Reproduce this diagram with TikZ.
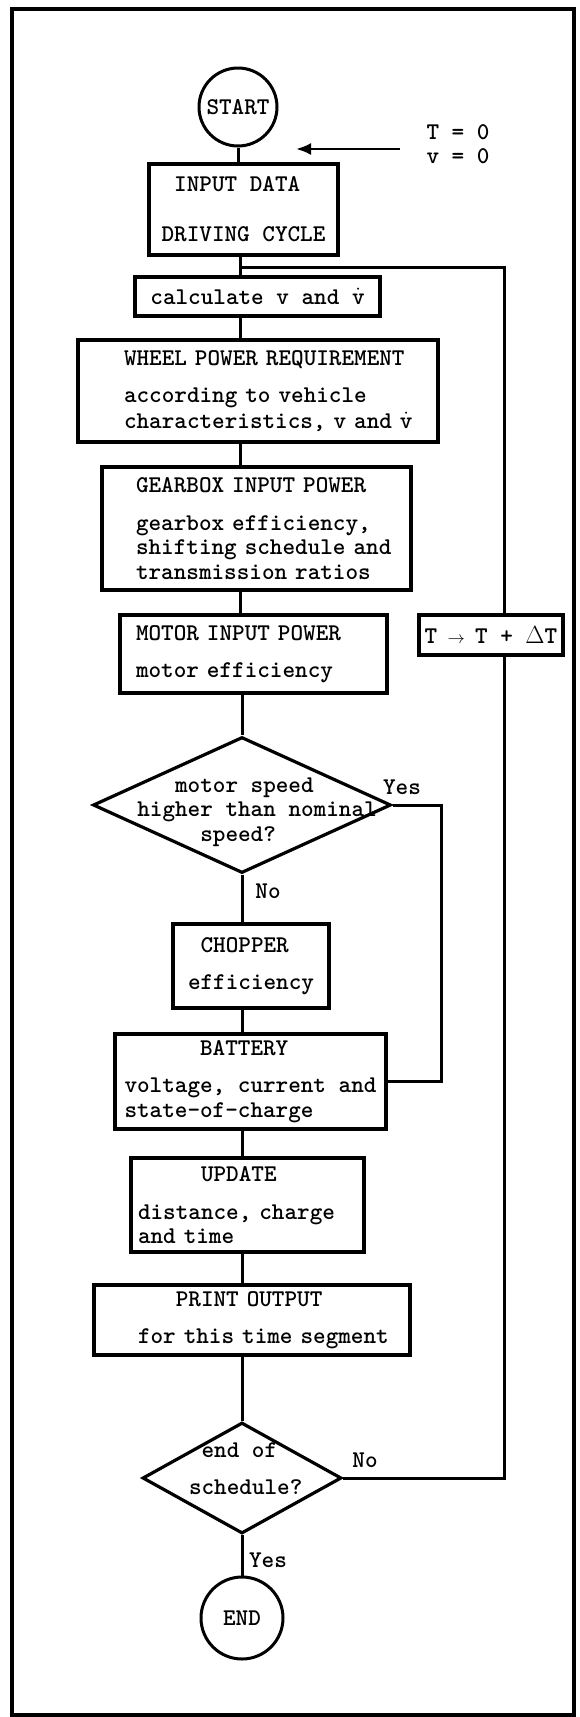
\documentclass[tikz,border=0pt]{standalone}
\usepackage{amsmath}
\usepackage{tikz}
\usetikzlibrary{shapes,arrows,arrows.meta}
\newcommand{\chartfont}{\fontsize{24}{24.5}\selectfont\ttfamily\bfseries}
\newcommand{\vdt}{$\dot{\mbox{v}}$}
\tikzstyle{block} = [draw, rectangle, line width=3.2pt, inner sep=0pt, align=left, font=\chartfont]
\tikzstyle{decision} = [draw, diamond, line width=3.2pt, inner sep=0pt]
\tikzstyle{terminal} = [draw, circle, line width=3pt, inner sep=0pt, font=\chartfont]
\tikzstyle{answer} = [inner sep=0pt, font=\chartfont]
\tikzstyle{line} = [draw, line width=3pt]
\tikzstyle{arrow} = [draw, line width=2.6pt, -{Latex[length=15pt,width=12pt]}]

\begin{document}
\begin{tikzpicture}[x=1pt, y=-1pt]
\fill[white] (0,0) rectangle (579,1717);
\useasboundingbox (0,0) rectangle (579,1717);
\draw[line width=3.8pt] (12,9) rectangle (574,1715);
%
\coordinate (spine) at (240,0);
\coordinate (junction) at (240,267);
\coordinate (loop) at (504,267);
\coordinate (bypass) at (441,0);
\coordinate (inittail) at (400,149);
\coordinate (inittip) at (296,149);
%
\node[terminal, minimum size=78pt] (start) at (238,107) {START};
\node[answer, align=left] (init) at (458,144) {T = 0\\v = 0};
\node[block, minimum width=189pt, minimum height=91pt] (input) at (243.5,209.5)
  {\hspace*{12.6pt}INPUT DATA\\[25.5pt]DRIVING CYCLE};
\node[block, minimum width=245pt, minimum height=39pt] (calc) at (257.5,296.5)
  {calculate v and \vdt};
\node[block, minimum width=360pt, minimum height=102pt, text width=268pt] (wheel) at (258,391)
  {\mbox{WHEEL POWER REQUIREMENT}\\[13pt]according to vehicle\\[1pt]\mbox{characteristics, v and \vdt}};
\node[block, minimum width=309pt, minimum height=123pt, text width=241pt] (gear) at (256.5,528.5)
  {\mbox{GEARBOX INPUT POWER}\\[13.5pt]\mbox{gearbox efficiency,}\\\mbox{shifting schedule and}\\\mbox{transmission ratios}};
\node[block, minimum width=267pt, minimum height=78pt, text width=235pt] (motor) at (253.5,654)
  {MOTOR INPUT POWER\\[12.5pt]motor efficiency};
\node[block, minimum width=144pt, minimum height=40pt, align=center] (increment) at (491,635)
  {T \makebox[12.6pt]{$\scriptstyle\rightarrow$} T + $\Delta$T};
%
\node[decision, minimum width=298pt, minimum height=136pt] (speed) at (242,805) {};
\node[answer, align=left] (speedtext) at (257,812)
  {\hspace*{37.8pt}motor speed\\higher than nominal\\\hspace*{63pt}speed?};
\node[answer] (yes1) at (402,787) {Yes};
\node[answer] (no1) at (268,891) {No};
%
\node[block, minimum width=156pt, minimum height=84pt] (chopper) at (251,966)
  {\hspace*{12.6pt}CHOPPER\\[12.5pt]efficiency};
\node[block, minimum width=271pt, minimum height=95pt] (battery) at (250.5,1081.5)
  {\hspace*{75.6pt}BATTERY\\[12.5pt]voltage, current and\\state-of-charge};
\node[block, minimum width=233pt, minimum height=94pt, text width=219pt] (update) at (247.5,1205)
  {\hspace*{63pt}UPDATE\\[13.5pt]distance, charge\\and time};
\node[block, minimum width=316pt, minimum height=70pt, text width=228pt] (print) at (252,1320)
  {\hspace*{37.8pt}PRINT OUTPUT\\[12.5pt]\mbox{for this time segment}};
%
\node[decision, minimum width=199pt, minimum height=111pt] (schedule) at (242,1478) {};
\node[answer, align=left] (scheduletext) at (245.7,1469)
  {\hspace*{12.6pt}end of\\[12.5pt]schedule?};
\node[answer] (no2) at (365,1460) {No};
\node[answer] (yes2) at (268,1560) {Yes};
\node[terminal, minimum size=82pt] (finish) at (242,1618) {END};
%
\draw[arrow] (inittail) -- (inittip);
\draw[line] (start.south) -- (start.south |- input.north);
\draw[line] (input.south -| spine) -- (calc.north -| spine);
\draw[line] (junction) -- (loop) -- (loop |- increment.north);
\draw[line] (loop |- increment.south) |- (schedule.east);
\draw[line] (calc.south -| spine) -- (wheel.north -| spine);
\draw[line] (wheel.south -| spine) -- (gear.north -| spine);
\draw[line] (gear.south -| spine) -- (motor.north -| spine);
\draw[line] (motor.south -| speed.north) -- (speed.north);
\draw[line] (speed.east) -- (speed.east -| bypass) |- (battery.east);
\draw[line] (speed.south) -- (speed.south |- chopper.north);
\draw[line] (chopper.south -| speed.south) -- (battery.north -| speed.south);
\draw[line] (battery.south -| speed.south) -- (update.north -| speed.south);
\draw[line] (update.south -| speed.south) -- (print.north -| speed.south);
\draw[line] (print.south -| schedule.north) -- (schedule.north);
\draw[line] (schedule.south) -- (finish.north);
\end{tikzpicture}
\end{document}
